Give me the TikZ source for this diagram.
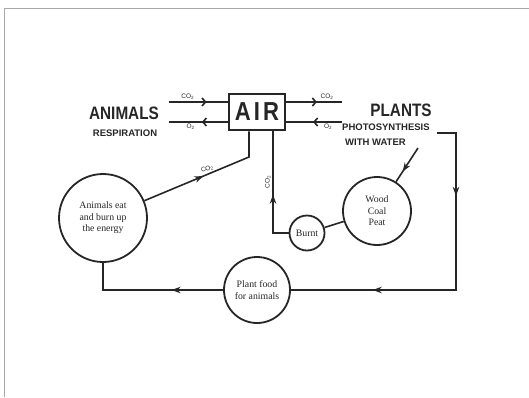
\documentclass[tikz,border=0pt]{standalone}
\usepackage{fontspec}
\setmainfont{Liberation Serif}
\newfontfamily\capsfont[FakeStretch=0.85]{Liberation Sans}
\newfontfamily\headfont{Liberation Sans}
\usetikzlibrary{arrows.meta,decorations.markings}
\definecolor{inkgray}{HTML}{262626}
\definecolor{framegray}{HTML}{A8A8A8}
\begin{document}
\begin{tikzpicture}[x=1pt, y=-1pt, color=inkgray,
  box/.style={draw, line width=2.6pt, minimum width=56, minimum height=36,
              font=\capsfont\bfseries\fontsize{26}{26}\selectfont},
  caps/.style={font=\capsfont\bfseries\fontsize{18}{18}\selectfont, inner sep=0pt},
  subhead/.style={font=\headfont\bfseries\fontsize{9.5}{11}\selectfont, inner sep=0pt},
  blob/.style={circle, draw, line width=1.8pt, align=center, inner sep=0pt,
               font=\fontsize{9.8}{11.5}\selectfont},
  gas/.style={font=\headfont\fontsize{6.5}{7}\selectfont, inner sep=1.5pt},
  flow/.style={line width=1.6pt},
  tip/.style={postaction={decorate, decoration={markings,
              mark=at position #1 with {\arrow{Stealth[length=9pt, width=6.5pt]}}}}},
  barb/.style={postaction={decorate, decoration={markings,
              mark=at position #1 with {\arrow{Straight Barb[length=3.5pt, width=8pt]}}}}}]
  \useasboundingbox (0,0) rectangle (529,397);
  \draw[framegray, line width=1pt] (4,397) -- (4,8) -- (529,8);

  \node[box] (air) at (257,112) {A\hspace{3pt}I\hspace{3pt}R};
  \node[caps] (animals) at (124,113) {ANIMALS};
  \node[subhead] (resp) at (125,133) {RESPIRATION};
  \node[caps] (plants) at (401,110) {PLANTS};
  \node[subhead, anchor=west] (photo) at (342,127) {PHOTOSYNTHESIS};
  \node[subhead, anchor=west] (water) at (345,142) {WITH WATER};

  \node[blob, minimum size=88] (eat) at (103,218) {Animals eat\\and burn up\\the energy};
  \node[blob, minimum size=68] (fuel) at (377,211) {Wood\\Coal\\Peat};
  \node[blob, minimum size=35] (burnt) at (307,233) {Burnt};
  \node[blob, minimum size=66] (food) at (257,290) {Plant food\\for animals};

  \coordinate (inCO2) at (169,102);
  \coordinate (outO2) at (169,122);
  \coordinate (toCO2) at (342,102);
  \coordinate (fromO2) at (342,122);
  \coordinate (eatbend) at (249,157);
  \coordinate (burntbend) at (273,233);
  \coordinate (sunstart) at (437,133);
  \coordinate (suncorner) at (456,133);
  \coordinate (sunfoot) at (456,290);
  \coordinate (foodfoot) at (103,290);
  \coordinate (waterstart) at (418,148);

  \draw[flow, barb=0.64] (inCO2) -- node[gas, above, pos=0.32] (co2in) {CO\textsubscript{2}} (inCO2 -| air.west);
  \draw[flow, barb=0.44] (outO2 -| air.west) -- node[gas, below, pos=0.63] (o2out) {O\textsubscript{2}} (outO2);
  \draw[flow, barb=0.55] (toCO2 -| air.east) -- node[gas, above, pos=0.73] (co2to) {CO\textsubscript{2}} (toCO2);
  \draw[flow, barb=0.52] (fromO2) -- node[gas, below, pos=0.25] (o2from) {O\textsubscript{2}} (fromO2 -| air.east);

  \draw[flow, tip=0.46] (eat) -- node[gas, sloped, above, pos=0.62] (co2eat) {CO\textsubscript{2}} (eatbend) -- (eatbend |- air.south);
  \draw[flow, tip=0.46] (burnt) -- (burntbend) -- node[gas, sloped, above, pos=0.5] (co2burnt) {CO\textsubscript{2}} (burntbend |- air.south);
  \draw[flow] (burnt) -- (fuel);
  \draw[flow, tip=0.7] (waterstart) -- (fuel);
  \draw[flow, tip=0.24, tip=0.76] (sunstart) -- (suncorner) -- (sunfoot) -- (food);
  \draw[flow, tip=0.35] (food) -- (foodfoot) -- (eat);
\end{tikzpicture}
\end{document}
